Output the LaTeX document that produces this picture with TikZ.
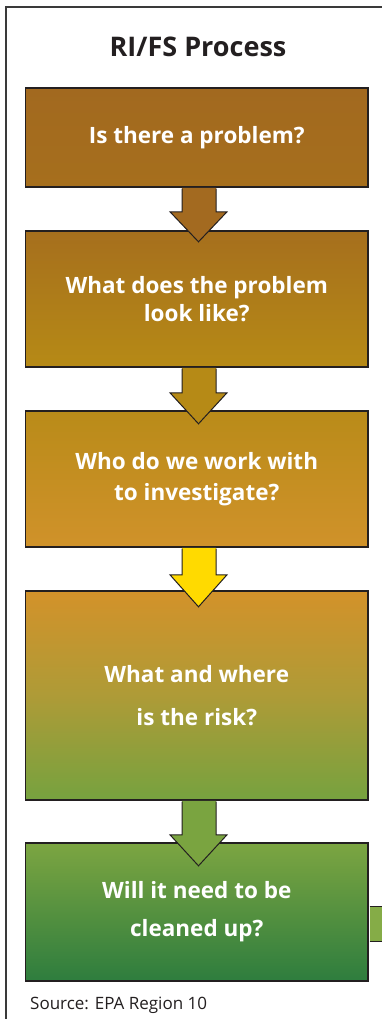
\documentclass[tikz,border=0pt]{standalone}
\usepackage{fontspec}
\setmainfont{Open Sans}
\usetikzlibrary{calc}
\definecolor{ink}{HTML}{231F20}
\definecolor{frm}{HTML}{3A3A3A}
\definecolor{bA}{HTML}{A2691F}
\definecolor{bB}{HTML}{A66F1D}
\definecolor{bC}{HTML}{B68A16}
\definecolor{bD}{HTML}{B98B19}
\definecolor{bE}{HTML}{D0922A}
\definecolor{bF}{HTML}{D3922A}
\definecolor{bG}{HTML}{AE9B37}
\definecolor{bH}{HTML}{76A23F}
\definecolor{bI}{HTML}{7CA541}
\definecolor{bJ}{HTML}{2E7D3E}
\definecolor{aA}{HTML}{A36A20}
\definecolor{aB}{HTML}{B68A16}
\definecolor{aC}{HTML}{FFDA00}
\definecolor{aD}{HTML}{7AA440}
\definecolor{aE}{HTML}{85AC47}
\newcommand\flowarrow[4]{%
  \fill[#4] ($(#1.south)+(-14.75,0)$) -- ($(#1.south)+(-14.75,#2)$) -- ($(#1.south)+(-26.75,#2)$) -- ($(#1.south)+(1.75,#3)$) -- ($(#1.south)+(30.25,#2)$) -- ($(#1.south)+(19.25,#2)$) -- ($(#1.south)+(19.25,0)$) -- cycle;
  \draw[arrline] ($(#1.south)+(-14.75,0.8)$) -- ($(#1.south)+(-14.75,#2)$) -- ($(#1.south)+(-26.75,#2)$) -- ($(#1.south)+(1.75,#3)$) -- ($(#1.south)+(30.25,#2)$) -- ($(#1.south)+(19.25,#2)$) -- ($(#1.south)+(19.25,0.8)$);
}
\begin{document}
\begin{tikzpicture}[x=1pt,y=-1pt,
  box/.style={draw=ink, line width=1.6pt, minimum width=342.5pt, inner sep=0pt,
    text=white, align=center, font=\bfseries\fontsize{22.5}{28}\selectfont},
  arrline/.style={draw=ink, line width=1pt, line join=miter},
  titletext/.style={text=ink, font=\bfseries\fontsize{27}{30}\selectfont, inner sep=0pt},
  srctext/.style={text=ink, font=\fontsize{17}{20}\selectfont, inner sep=0pt, anchor=west}]
\useasboundingbox (0,0) rectangle (382,1019);
\clip (0,0) rectangle (382,1019);
\fill[white] (0,0) rectangle (382,1019);
\draw[frm, line width=1.6pt] (6,1030) -- (6,7) -- (395,7);
\node[titletext] (title) at (198,47) {RI/FS Process};
\node[box, minimum height=99pt, top color=bA, bottom color=bB] (b1) at (196.75,137.5) {Is there a problem?};
\node[box, minimum height=136pt, top color=bB, bottom color=bC] (b2) at (196.75,299) {What does the problem\\look like?};
\node[box, minimum height=136pt, top color=bD, bottom color=bE, font=\bfseries\fontsize{22.5}{31}\selectfont] (b3) at (196.75,479) {Who do we work with\\to investigate?};
\node[box, minimum height=209pt, top color=bF, bottom color=bH, middle color=bG, font=\bfseries\fontsize{22.5}{43}\selectfont] (b4) at (196.75,695.5) {What and where\\is the risk?};
\node[box, minimum height=138pt, top color=bI, bottom color=bJ, font=\bfseries\fontsize{22.5}{38}\selectfont] (b5) at (196.75,912) {Will it need to be\\cleaned up?};
\flowarrow{b1}{24}{54}{aA}
\flowarrow{b2}{25}{56}{aB}
\flowarrow{b3}{27}{59}{aC}
\flowarrow{b4}{34}{65}{aD}
\coordinate (offpage) at ($(b5.east)+(30,0)$);
\fill[aE] ($(b5.east)+(0.8,-6)$) rectangle ($(offpage)+(0,29)$);
\draw[arrline] ($(b5.east)+(0.8,-6)$) -- ($(offpage)+(0,-6)$);
\draw[arrline] ($(b5.east)+(0.8,29)$) -- ($(offpage)+(0,29)$);
\node[srctext] (src) at (30,1005) {Source: EPA Region 10};
\end{tikzpicture}
\end{document}
